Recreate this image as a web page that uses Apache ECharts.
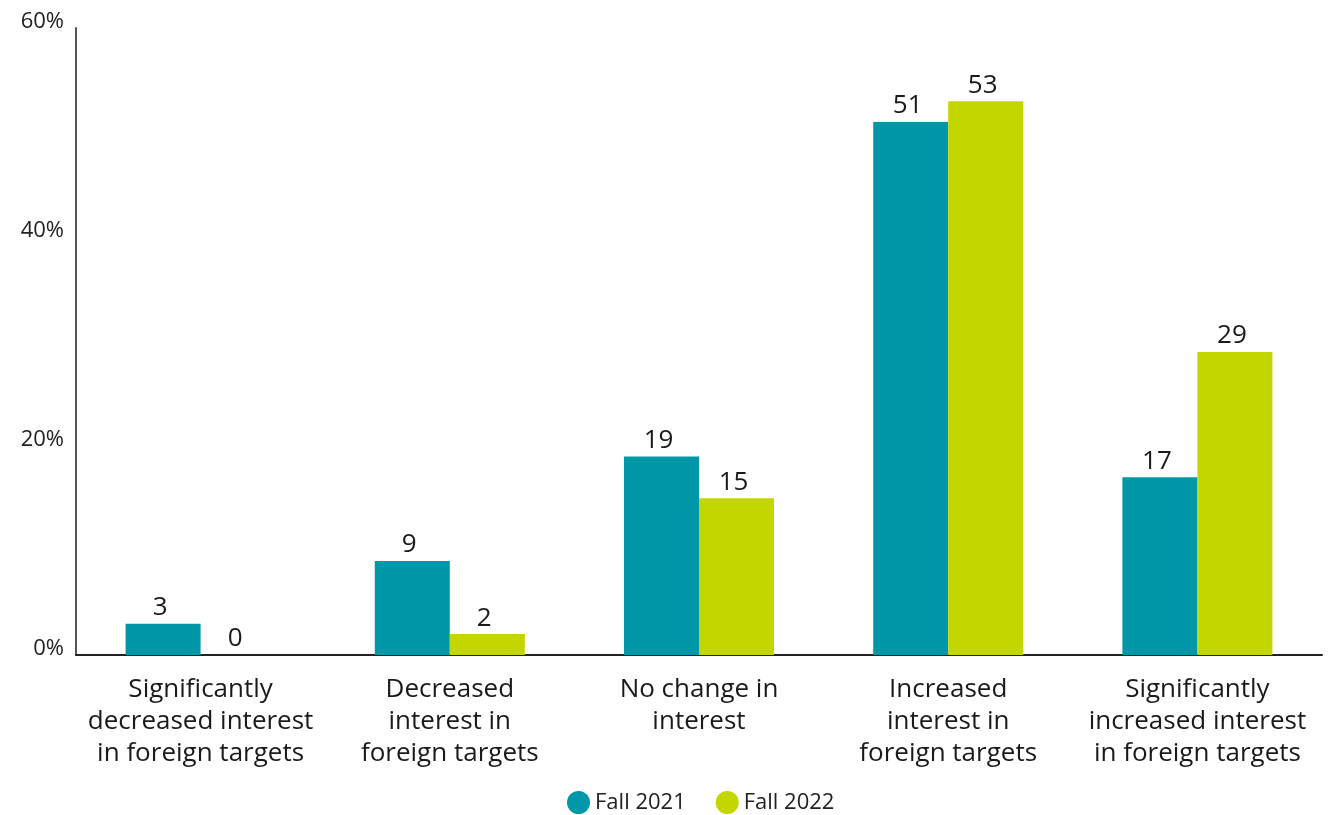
<!DOCTYPE html>
<html><head><meta charset="utf-8">
<script src="https://cdn.jsdelivr.net/npm/echarts@6/dist/echarts.min.js"></script>
<style>html,body{margin:0;padding:0;background:#fff}#c{width:1330px;height:815px}</style>
</head><body><div id="c"></div>
<script>
const categories = [
  "Significantly\ndecreased interest\nin foreign targets",
  "Decreased\ninterest in\nforeign targets",
  "No change in\ninterest",
  "Increased\ninterest in\nforeign targets",
  "Significantly\nincreased interest\nin foreign targets"
];
const fall2021 = [3, 9, 19, 51, 17];
const fall2022 = [0, 2, 15, 53, 29];
const seriesNames = ["Fall 2021", "Fall 2022"];
const colors = ["#0097a9", "#c4d600"];
const font = "'Open Sans', sans-serif";

const chart = echarts.init(document.getElementById('c'));
const lbl = {show: true, position: 'top', distance: 3, fontFamily: font, fontSize: 26, color: '#1a1a1a', offset: [-3, 0]};
chart.setOption({
  animation: false,
  textStyle: {fontFamily: font},
  grid: {left: 76, right: 8, top: 28, bottom: 160},
  legend: {
    top: 786, left: 562, itemGap: 30, icon: 'circle', itemWidth: 23, itemHeight: 23,
    textStyle: {fontFamily: font, fontSize: 22, color: '#222'},
    data: seriesNames
  },
  xAxis: {
    type: 'category', data: categories,
    axisLine: {lineStyle: {color: '#222', width: 2}},
    axisTick: {show: false},
    axisLabel: {fontFamily: font, fontSize: 26, color: '#1a1a1a', lineHeight: 32, margin: 19, interval: 0}
  },
  yAxis: {
    type: 'value', min: 0, max: 60, interval: 20,
    axisLine: {show: true, lineStyle: {color: '#555', width: 2}},
    axisTick: {show: false},
    splitLine: {show: false},
    axisLabel: {
      margin: 12, verticalAlign: 'middle',
      formatter: function (v) { return '{a|' + v + '%}'; },
      rich: {a: {fontFamily: font, fontSize: 22, color: '#222', padding: [0, 0, 13, 0]}}
    }
  },
  series: [
    {name: seriesNames[0], type: 'bar', data: fall2021, barWidth: 75, barGap: '0%', itemStyle: {color: colors[0]}, label: lbl},
    {name: seriesNames[1], type: 'bar', data: fall2022, barWidth: 75, itemStyle: {color: colors[1]}, label: lbl}
  ]
});
</script></body></html>
